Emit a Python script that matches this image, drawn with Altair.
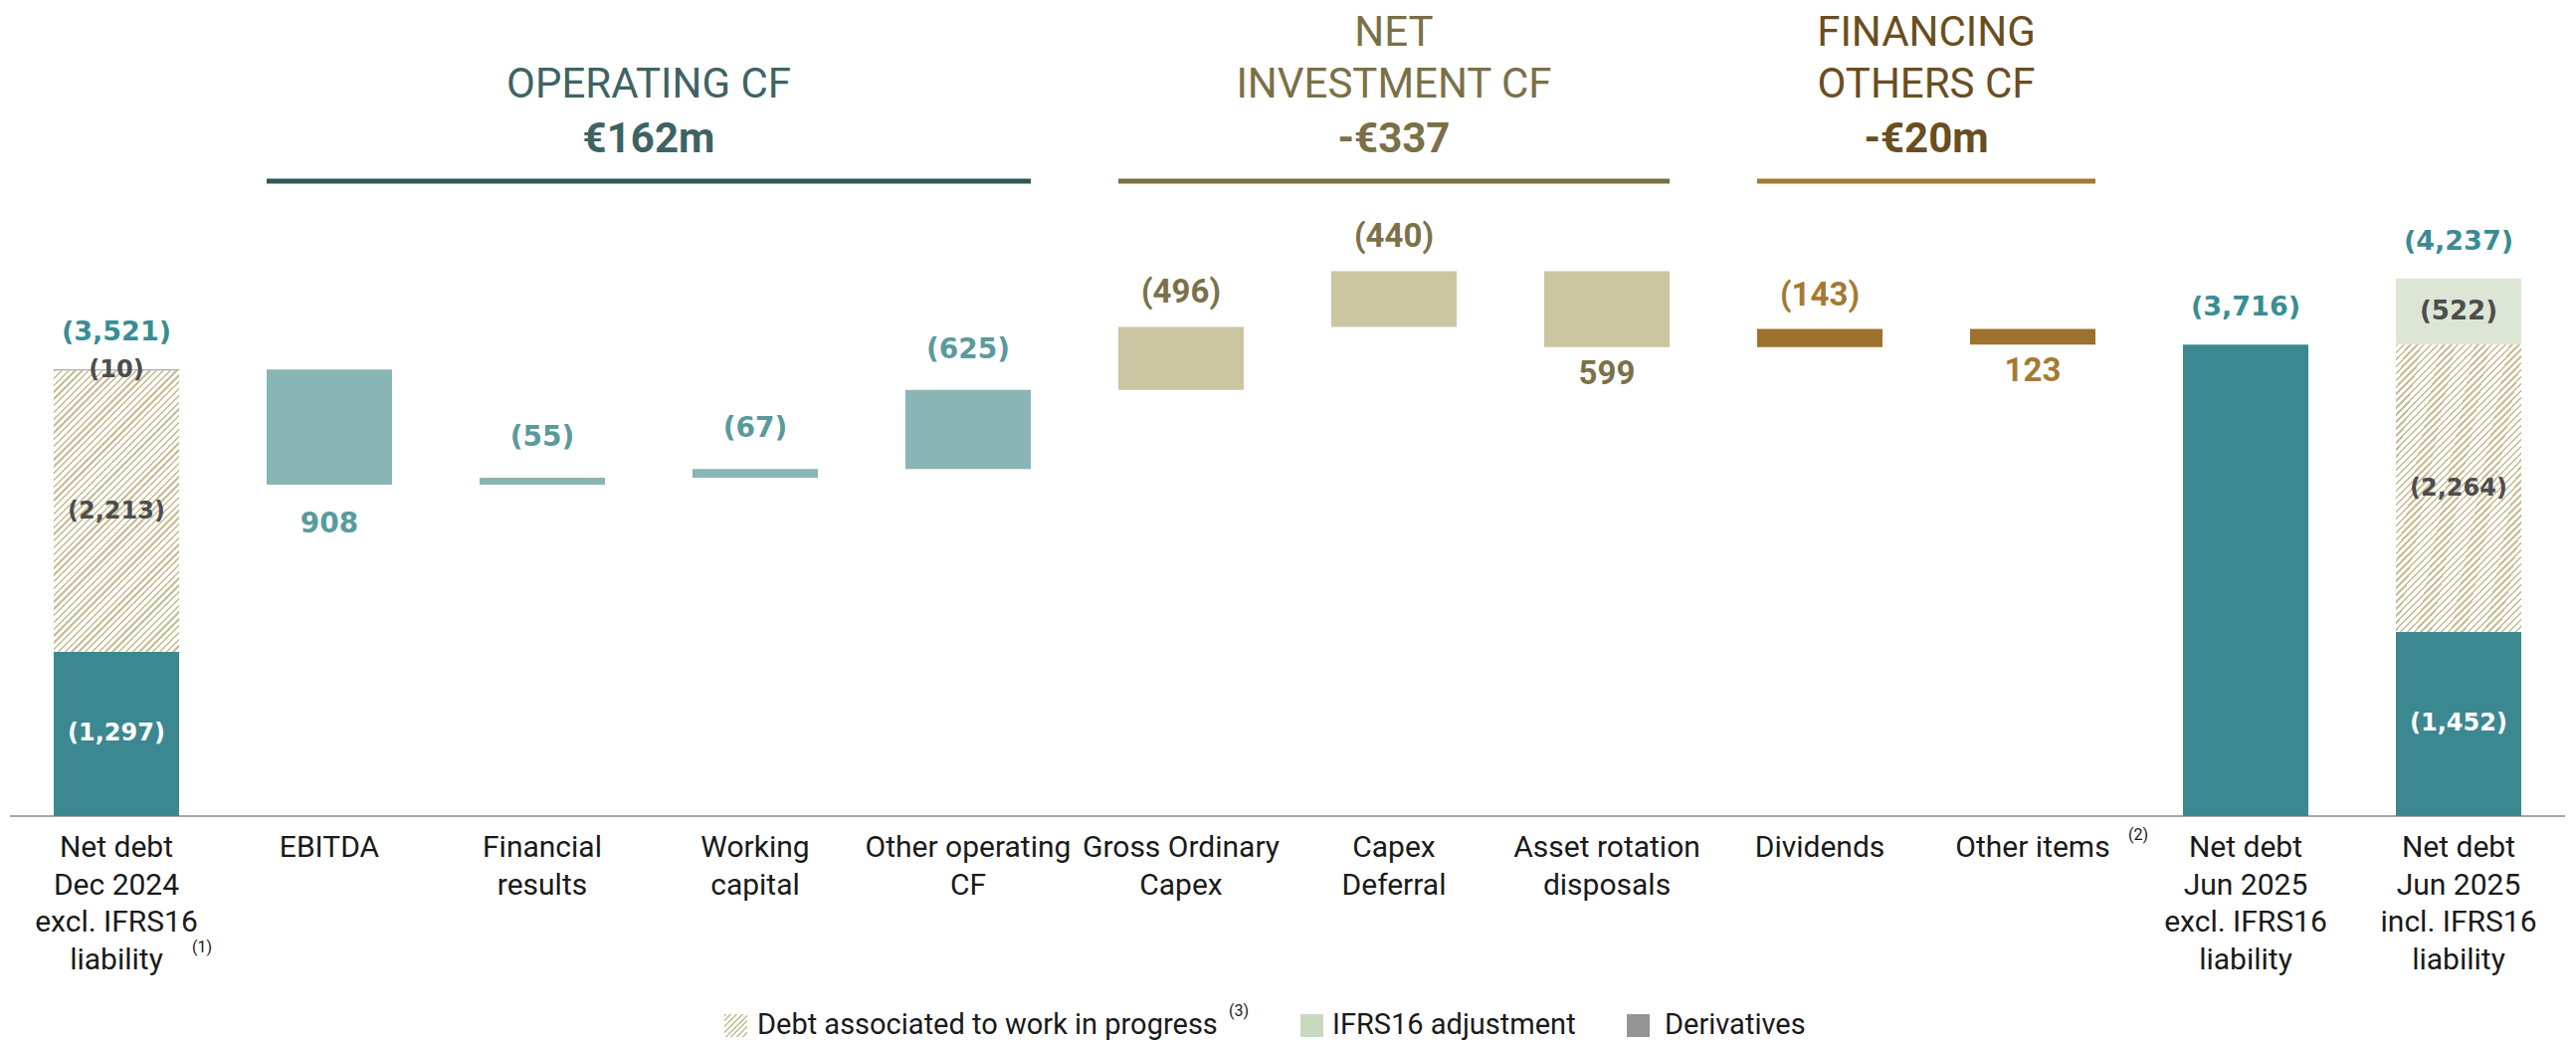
import altair as alt
import pandas as pd

# ---------------- data ----------------
categories = [
    "Net debt|Dec 2024|excl. IFRS16|liability",
    "EBITDA",
    "Financial|results",
    "Working|capital",
    "Other operating|CF",
    "Gross Ordinary|Capex",
    "Capex|Deferral",
    "Asset rotation|disposals",
    "Dividends",
    "Other items",
    "Net debt|Jun 2025|excl. IFRS16|liability",
    "Net debt|Jun 2025|incl. IFRS16|liability",
]
opening_total = 3521
step_values = [-908, 55, 67, 625, 496, 440, -599, 143, -123]
step_groups = ["op", "op", "op", "op", "inv", "inv", "inv", "fin", "fin"]
closing_excl = 3716
closing_incl = 4237

opening_kinds = ["Net debt", "Work in progress", "Derivatives"]
opening_values = [1297, 2213, 10]
closing_kinds = ["Net debt", "Work in progress", "IFRS16"]
closing_values = [1452, 2264, 522]

group_names = ["OPERATING CF", "NET|INVESTMENT CF", "FINANCING|OTHERS CF"]
group_amounts = ["€162m", "-€337", "-€20m"]
group_first = [1, 5, 8]
group_last = [4, 7, 9]
group_keys = ["op", "inv", "fin"]

legend_labels = ["Debt associated to work in progress", "IFRS16 adjustment", "Derivatives"]

# ---------------- layout / style ----------------
W_PLOT, H_PLOT = 2568, 812
Y_MAX = 6370
PPU = H_PLOT / Y_MAX
HALF = 0.2945
BAR_PX = 2 * HALF * W_PLOT / 12

TEAL = "#3C8891"
BAR_COL = {"op": "#8AB5B5", "inv": "#CBC5A1", "fin": "#9C722D"}
LAB_COL = {"op": "#5A9A9C", "inv": "#7B7149", "fin": "#A47A32"}
TITLE_COL = {"op": "#3F6363", "inv": "#7A7046", "fin": "#6A4E1F"}
LINE_COL = {"op": "#2E5656", "inv": "#7A7046", "fin": "#A3792F"}
KIND_COL = {"Net debt": TEAL, "Work in progress": "#FFFFFF", "Derivatives": "#959595", "IFRS16": "#DDE6D5"}

xs = alt.Scale(domain=[-0.5, 11.5], nice=False, zero=False)
ys = alt.Scale(domain=[0, Y_MAX], nice=False, zero=False)


def hatch(w, h, period=4.8, frac=0.35, line="#C9BD94"):
    k = (w + h) / (w * w + h * h)
    n = max(1, round((w + h) / 2 ** 0.5 / period))
    stops = []
    for j in range(n):
        a, b, c = j / n, (j + frac) / n, (j + 1) / n
        stops += [alt.GradientStop(offset=a, color=line), alt.GradientStop(offset=b, color=line),
                  alt.GradientStop(offset=b, color="#FFFFFF"), alt.GradientStop(offset=c, color="#FFFFFF")]
    return alt.LinearGradient(gradient="linear", stops=stops, x1=0, y1=0, x2=k * w, y2=k * h)


# ---------------- frames ----------------
rows = []
level = opening_total
for i, (v, g) in enumerate(zip(step_values, step_groups), start=1):
    new = level + v
    rows.append(dict(idx=i, lo=min(level, new), hi=max(level, new), up=v > 0, grp=g,
                     label=f"({v:,})" if v > 0 else f"{-v:,}"))
    level = new
wf = pd.DataFrame(rows)

seg_rows = []
for idx, kinds, vals in [(0, opening_kinds, opening_values), (11, closing_kinds, closing_values)]:
    base = 0
    for kd, v in zip(kinds, vals):
        seg_rows.append(dict(idx=idx, lo=base, hi=base + v, kind=kd, label=f"({v:,})"))
        base += v
seg_rows.append(dict(idx=10, lo=0, hi=closing_excl, kind="Net debt", label=""))
seg = pd.DataFrame(seg_rows)

tot = pd.DataFrame(dict(idx=[0, 10, 11], value=[opening_total, closing_excl, closing_incl]))
tot["label"] = tot["value"].map(lambda v: f"({v:,})")

cats = pd.DataFrame(dict(idx=list(range(len(categories))), label=categories))
notes = pd.DataFrame(dict(idx=[0, 9], label=["(1)", "(2)"]))

layers = []

# axis line
layers.append(alt.Chart(pd.DataFrame({"a": [0]})).mark_rule(color="#A6A6A6", strokeWidth=2).encode(
    x=alt.value(0), x2=alt.value(W_PLOT), y=alt.value(H_PLOT)))

# waterfall bars
layers.append(alt.Chart(wf).transform_calculate(x0=f"datum.idx - {HALF}", x1=f"datum.idx + {HALF}").mark_bar().encode(
    x=alt.X("x0:Q", scale=xs, axis=None), x2="x1:Q",
    y=alt.Y("lo:Q", scale=ys, axis=None), y2="hi:Q",
    color=alt.Color("grp:N", scale=alt.Scale(domain=group_keys, range=[BAR_COL[k] for k in group_keys]),
                    legend=None)))

# stacked total bars
kdom = list(KIND_COL)
layers.append(alt.Chart(seg).transform_calculate(x0=f"datum.idx - {HALF}", x1=f"datum.idx + {HALF}").mark_bar().encode(
    x=alt.X("x0:Q", scale=xs, axis=None), x2="x1:Q",
    y=alt.Y("lo:Q", scale=ys, axis=None), y2="hi:Q",
    fill=alt.Fill("kind:N", scale=alt.Scale(domain=kdom, range=[KIND_COL[k] for k in kdom]), legend=None)))

# hatching over work-in-progress segments
wip_h = sum(v for k, v in zip(opening_kinds, opening_values) if k == "Work in progress") * PPU
layers.append(alt.Chart(seg).transform_filter("datum.kind == 'Work in progress'").transform_calculate(
    x0=f"datum.idx - {HALF}", x1=f"datum.idx + {HALF}").mark_bar(fill=hatch(BAR_PX, wip_h)).encode(
    x=alt.X("x0:Q", scale=xs, axis=None), x2="x1:Q",
    y=alt.Y("lo:Q", scale=ys, axis=None), y2="hi:Q"))

# waterfall labels
for g in group_keys:
    if g == "op":
        font, size, off_up, off_dn = "DejaVu Sans", 28, 40, 40
    else:
        font, size, off_up, off_dn = "Roboto", 33, 34, 27
    for up in (True, False):
        layers.append(alt.Chart(wf).transform_filter(
            f"datum.grp == '{g}' && datum.up == {'true' if up else 'false'}").mark_text(
            font=font, fontSize=size, fontWeight="bold", color=LAB_COL[g], baseline="middle",
            dy=-off_up if up else off_dn).encode(
            x=alt.X("idx:Q", scale=xs, axis=None),
            y=alt.Y("hi:Q" if up else "lo:Q", scale=ys, axis=None),
            text="label:N"))

# total labels
layers.append(alt.Chart(tot).mark_text(font="DejaVu Sans", fontSize=27, fontWeight="bold", color="#3A8C94",
                                       baseline="middle", dy=-37).encode(
    x=alt.X("idx:Q", scale=xs, axis=None), y=alt.Y("value:Q", scale=ys, axis=None), text="label:N"))

# inner labels
layers.append(alt.Chart(seg).transform_filter("datum.label != ''").transform_calculate(
    mid="(datum.lo + datum.hi) / 2").mark_text(font="DejaVu Sans", fontWeight="bold", baseline="middle").encode(
    x=alt.X("idx:Q", scale=xs, axis=None), y=alt.Y("mid:Q", scale=ys, axis=None), text="label:N",
    color=alt.condition("datum.kind == 'Net debt'", alt.value("#FFFFFF"), alt.value("#4D4D4D")),
    size=alt.condition("datum.kind == 'IFRS16'", alt.value(26), alt.value(24))))

# category labels
layers.append(alt.Chart(cats).mark_text(font="Roboto", fontSize=30, color="#1A1A1A", baseline="top",
                                        lineBreak="|", lineHeight=37.5).encode(
    x=alt.X("idx:Q", scale=xs, axis=None), y=alt.value(829), text="label:N"))

# footnote marks
layers.append(alt.Chart(notes).transform_filter("datum.idx == 0").mark_text(
    font="Roboto", fontSize=16, color="#1A1A1A", baseline="middle", dx=86).encode(
    x=alt.X("idx:Q", scale=xs, axis=None), y=alt.value(944), text="label:N"))
layers.append(alt.Chart(notes).transform_filter("datum.idx == 9").mark_text(
    font="Roboto", fontSize=16, color="#1A1A1A", baseline="middle", dx=106).encode(
    x=alt.X("idx:Q", scale=xs, axis=None), y=alt.value(831), text="label:N"))

# group titles, amounts and underlines
for name, amt, a, b, key in zip(group_names, group_amounts, group_first, group_last, group_keys):
    lines = name.split("|")
    tl = pd.DataFrame(dict(xc=[(a + b) / 2] * len(lines), text=list(reversed(lines)), k=list(range(len(lines)))))
    ta = pd.DataFrame(dict(xc=[(a + b) / 2], text=[amt], u0=[a - HALF], u1=[b + HALF]))
    layers.append(alt.Chart(tl).transform_calculate(py="77 - 52 * datum.k").mark_text(
        font="Roboto", fontSize=42, baseline="middle", color=TITLE_COL[key]).encode(
        x=alt.X("xc:Q", scale=xs, axis=None), y=alt.Y("py:Q", scale=None), text="text:N"))
    layers.append(alt.Chart(ta).mark_text(font="Roboto", fontSize=42, fontWeight="bold", baseline="middle",
                                          color=TITLE_COL[key]).encode(
        x=alt.X("xc:Q", scale=xs, axis=None), y=alt.value(132), text="text:N"))
    layers.append(alt.Chart(ta).mark_rule(strokeWidth=5, color=LINE_COL[key]).encode(
        x=alt.X("u0:Q", scale=xs, axis=None), x2="u1:Q", y=alt.value(174)))

# legend
one = pd.DataFrame({"a": [0]})
LY0, LY1, LYC = 1011, 1034, 1022
sw_x = [718, 1297, 1625]
tx_x = [751, 1329, 1663]
sw_fill = [hatch(23, 23, period=4.2), "#C9D9BE", "#959595"]
for sx, tx, fillc, lab in zip(sw_x, tx_x, sw_fill, legend_labels):
    layers.append(alt.Chart(one).mark_rect(fill=fillc).encode(
        x=alt.value(sx), x2=alt.value(sx + 23), y=alt.value(LY0), y2=alt.value(LY1)))
    layers.append(alt.Chart(one).mark_text(font="Roboto", fontSize=29, color="#1A1A1A", align="left",
                                           baseline="middle", text=lab).encode(
        x=alt.value(tx), y=alt.value(LYC)))
layers.append(alt.Chart(one).mark_text(font="Roboto", fontSize=16, color="#1A1A1A", align="left",
                                       baseline="middle", text="(3)").encode(
    x=alt.value(1225), y=alt.value(1008)))

chart = alt.layer(*layers).properties(
    width=W_PLOT, height=H_PLOT,
    padding={"left": 2, "top": 0, "right": 0, "bottom": 236},
    autosize=alt.AutoSizeParams(type="none"),
    background="white",
).configure_view(stroke=None)

chart.save("out.html", embed_options={"renderer": "svg", "actions": False})
